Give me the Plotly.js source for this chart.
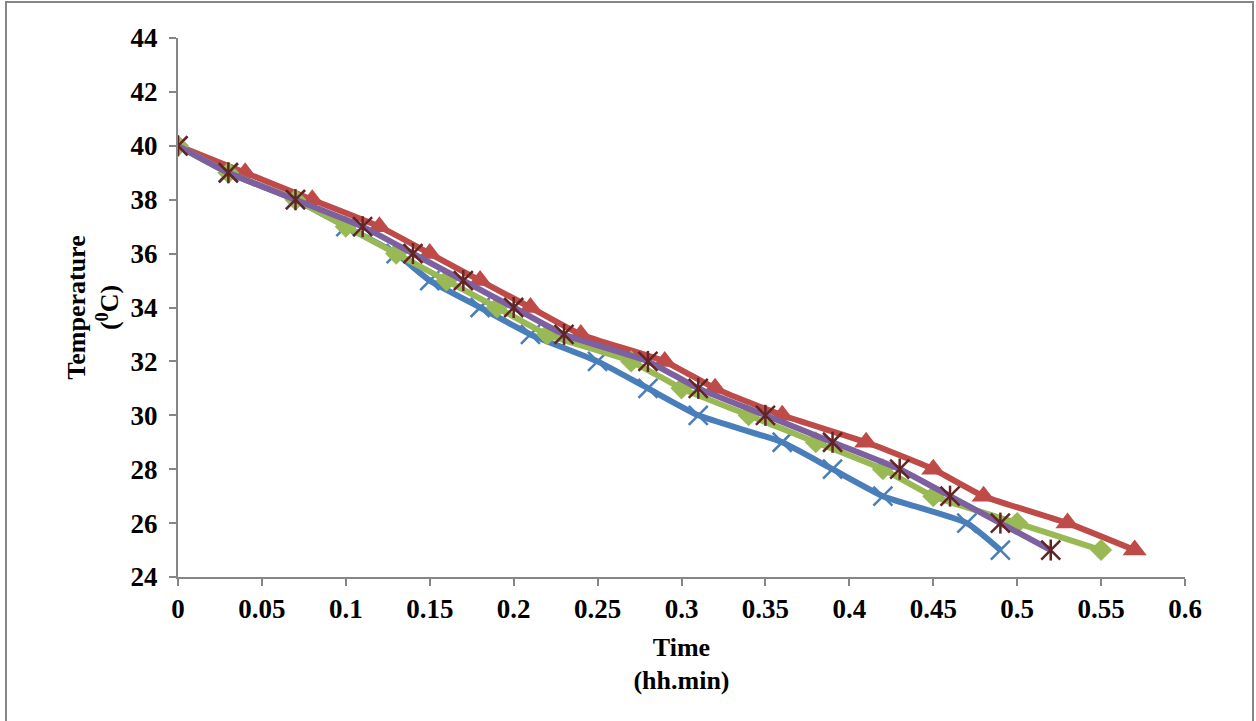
<!DOCTYPE html>
<html>
<head>
<meta charset="utf-8">
<script src="https://cdn.plot.ly/plotly-3.0.1.min.js"></script>
<style>
html, body { margin: 0; padding: 0; background: #ffffff; overflow: hidden; }
#wrap { position: relative; width: 1256px; height: 721px; }
#chart { position: absolute; left: 0; top: 0; width: 1256px; height: 721px; }
#frame { position: absolute; left: 5px; top: 1px; width: 1245px; height: 740px; border: 2px solid #868686; pointer-events: none; }
</style>
</head>
<body>
<div id="wrap">
  <div id="chart"></div>
  <div id="frame"></div>
</div>
<script>
// Series data (time in hh.min, temperature in °C)
const timeA = [0, 0.03, 0.07, 0.10, 0.13, 0.15, 0.18, 0.21, 0.25, 0.28, 0.31, 0.36, 0.39, 0.42, 0.47, 0.49];
const tempA = [40, 39, 38, 37, 36, 35, 34, 33, 32, 31, 30, 29, 28, 27, 26, 25];

const timeB = [0, 0.04, 0.08, 0.12, 0.15, 0.18, 0.21, 0.24, 0.29, 0.32, 0.36, 0.41, 0.45, 0.48, 0.53, 0.57];
const tempB = [40, 39, 38, 37, 36, 35, 34, 33, 32, 31, 30, 29, 28, 27, 26, 25];

const timeC = [0, 0.03, 0.07, 0.10, 0.13, 0.16, 0.19, 0.22, 0.27, 0.30, 0.34, 0.38, 0.42, 0.45, 0.50, 0.55];
const tempC = [40, 39, 38, 37, 36, 35, 34, 33, 32, 31, 30, 29, 28, 27, 26, 25];

const timeD = [0, 0.03, 0.07, 0.11, 0.14, 0.17, 0.20, 0.23, 0.28, 0.31, 0.35, 0.39, 0.43, 0.46, 0.49, 0.52];
const tempD = [40, 39, 38, 37, 36, 35, 34, 33, 32, 31, 30, 29, 28, 27, 26, 25];

const xTickVals = [0, 0.05, 0.1, 0.15, 0.2, 0.25, 0.3, 0.35, 0.4, 0.45, 0.5, 0.55, 0.6];
const xTickText = ["0", "0.05", "0.1", "0.15", "0.2", "0.25", "0.3", "0.35", "0.4", "0.45", "0.5", "0.55", "0.6"];
const yTickVals = [24, 26, 28, 30, 32, 34, 36, 38, 40, 42, 44];
const yTickText = ["24", "26", "28", "30", "32", "34", "36", "38", "40", "42", "44"];

const FONT = "'Liberation Serif', 'Times New Roman', serif";
const SPL = {shape: 'spline', smoothing: 0.5};
const LW = 6;

const traces = [
  {x: timeA, y: tempA, mode: 'lines+markers', name: 'A',
   line: Object.assign({color: '#4a7ebb', width: LW}, SPL),
   marker: {symbol: 'x-thin-open', size: 19, color: '#4a7ebb', line: {color: '#4a7ebb', width: 2.5}}},
  {x: timeB, y: tempB, mode: 'lines+markers', name: 'B',
   line: Object.assign({color: '#be4b48', width: LW}, SPL),
   marker: {symbol: 'triangle-up', size: 21, color: '#be4b48', line: {width: 0}}},
  {x: timeC, y: tempC, mode: 'lines+markers', name: 'C',
   line: Object.assign({color: '#98b954', width: LW}, SPL),
   marker: {symbol: 'diamond', size: 17, color: '#98b954', line: {width: 0}}},
  {x: timeD, y: tempD, mode: 'lines', name: 'D',
   line: Object.assign({color: '#7d60a0', width: LW}, SPL)},
  {x: timeD, y: tempD, mode: 'markers', name: 'D-x', showlegend: false,
   marker: {symbol: 'x-thin-open', size: 19, color: '#632523', line: {color: '#632523', width: 2.5}}},
  {x: timeD, y: tempD, mode: 'markers', name: 'D-v', showlegend: false,
   marker: {symbol: 'line-ns-open', size: 15, color: '#632523', line: {color: '#632523', width: 2.5}}}
];

const layout = {
  width: 1256, height: 721,
  margin: {l: 178, r: 71, t: 38, b: 144},
  paper_bgcolor: '#ffffff', plot_bgcolor: '#ffffff',
  showlegend: false,
  font: {family: FONT, color: '#000000'},
  xaxis: {
    range: [0, 0.6], tickvals: xTickVals, ticktext: xTickText,
    showgrid: false, zeroline: false,
    showline: true, linecolor: '#868686', linewidth: 2,
    ticks: 'outside', ticklen: 7, tickcolor: '#868686', tickwidth: 2,
    tickfont: {family: FONT, size: 27, color: '#000000', weight: 'bold'},
    title: {text: '<b>Time</b><br><b>(hh.min)</b>', font: {family: FONT, size: 26, color: '#000000'}, standoff: 14}
  },
  yaxis: {
    range: [24, 44], tickvals: yTickVals, ticktext: yTickText,
    showgrid: false, zeroline: false,
    showline: true, linecolor: '#868686', linewidth: 2,
    ticks: 'outside', ticklen: 7, tickcolor: '#868686', tickwidth: 2,
    ticklabelstandoff: 6,
    tickfont: {family: FONT, size: 27, color: '#000000', weight: 'bold'},
    title: {text: '<b>Temperature</b><br><b>(<sup>0</sup>C)</b>', font: {family: FONT, size: 26, color: '#000000'}, standoff: 4}
  }
};

Plotly.newPlot('chart', traces, layout, {displayModeBar: false, staticPlot: true});
</script>
</body>
</html>
